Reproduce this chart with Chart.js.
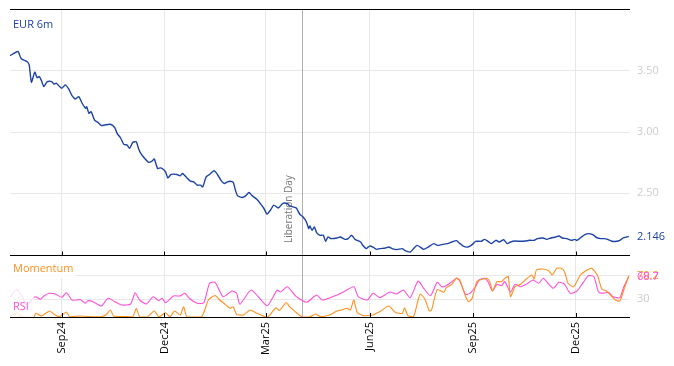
<!DOCTYPE html>
<html>
<head>
<meta charset="utf-8">
<script src="https://cdn.jsdelivr.net/npm/chart.js@4.4.1/dist/chart.umd.min.js"></script>
<style>
  html, body { margin: 0; padding: 0; background: #fff; }
  #wrap { width: 674px; height: 366px; position: relative; }
</style>
</head>
<body>
<div id="wrap"><canvas id="chart" width="674" height="366"></canvas></div>
<script>
// days are counted from 17 Jul 2024
const startDate = Date.UTC(2024, 6, 17);
const dayOf = s => Math.round((Date.parse(s) - startDate) / 86400000);

const eurDays = [0,7,10,15,17,19,22,24,26,28,30,33,37,39,41,44,46,49,52,55,58,61,64,67,68,70,72,75,78,81,84,89,93,95,98,101,104,106,109,112,114,116,119,123,126,128,131,134,138,140,143,148,151,153,157,160,163,166,169,171,174,177,181,184,187,190,193,195,198,200,202,206,209,212,215,219,222,225,228,231,234,238,242,246,248,251,254,257,260,263,265,266,268,270,272,275,278,280,282,285,290,293,297,300,303,306,311,313,316,319,322,325,328,333,336,339,343,348,350,355,358,361,364,367,371,376,379,383,388,392,396,399,402,406,410,413,418,421,424,427,431,434,438,441,444,448,453,457,461,465,468,473,476,480,484,487,490,494,498,501,503,507,510,513,517,521,524,527,530,534,538,541,544,547,549];
const eurVals = [3.623,3.658,3.598,3.576,3.549,3.407,3.489,3.443,3.453,3.418,3.371,3.412,3.412,3.391,3.399,3.371,3.358,3.385,3.352,3.297,3.270,3.289,3.235,3.194,3.207,3.153,3.166,3.098,3.079,3.052,3.057,3.063,3.035,2.989,2.953,2.899,2.893,2.866,2.916,2.920,2.866,2.825,2.789,2.752,2.762,2.779,2.702,2.707,2.675,2.625,2.653,2.653,2.642,2.661,2.625,2.598,2.593,2.566,2.566,2.552,2.634,2.653,2.683,2.653,2.607,2.579,2.593,2.598,2.588,2.524,2.478,2.465,2.478,2.506,2.478,2.451,2.416,2.379,2.330,2.361,2.402,2.379,2.416,2.416,2.396,2.388,2.379,2.328,2.306,2.265,2.211,2.232,2.197,2.224,2.178,2.156,2.156,2.107,2.142,2.129,2.134,2.142,2.123,2.129,2.156,2.123,2.101,2.074,2.047,2.068,2.060,2.041,2.047,2.052,2.060,2.047,2.039,2.047,2.033,2.019,2.047,2.074,2.060,2.041,2.060,2.088,2.074,2.080,2.088,2.101,2.112,2.090,2.068,2.060,2.080,2.107,2.107,2.123,2.107,2.088,2.115,2.101,2.120,2.088,2.101,2.109,2.107,2.109,2.115,2.115,2.129,2.134,2.123,2.134,2.142,2.150,2.134,2.129,2.115,2.123,2.115,2.142,2.161,2.170,2.161,2.134,2.129,2.129,2.123,2.107,2.107,2.115,2.134,2.142,2.146];

const rsiDays = [0,6,11,15,22,27,30,35,40,46,50,55,59,62,67,69,74,81,87,93,99,107,111,115,121,127,132,135,138,145,151,155,160,166,172,177,182,189,197,201,204,214,228,237,240,246,254,263,272,277,284,290,296,305,309,317,322,328,337,343,349,355,362,367,373,379,383,387,392,396,399,404,408,413,416,421,424,428,432,436,439,444,448,453,458,464,469,473,478,482,487,492,497,503,509,513,518,522,526,531,535,541,544,549];
const rsiVals = [33.9,46.9,33.9,20.3,34.4,30.0,35.6,40.1,39.0,33.4,41.2,28.8,28.8,30.0,23.2,27.6,25.4,18.6,31.7,25.9,20.3,22.0,41.2,28.8,22.0,34.4,27.6,31.7,24.2,35.6,35.6,40.1,30.0,23.2,24.2,57.1,58.8,34.4,44.0,40.1,21.5,45.7,19.1,45.7,42.3,51.3,34.4,24.9,37.3,28.8,32.7,37.3,42.8,51.3,34.4,28.8,40.1,32.7,42.3,39.0,45.7,32.7,61.0,48.6,36.1,58.8,51.3,53.0,59.8,65.5,61.0,38.4,40.1,51.3,62.7,65.5,59.8,44.0,55.4,53.0,59.8,41.8,55.4,51.3,55.4,62.7,57.1,65.5,55.4,48.6,58.8,55.4,40.1,44.0,59.8,69.9,68.2,42.8,40.1,41.8,34.4,32.7,48.6,68.7];

const momDays = [0,6,11,21,23,28,35,40,44,50,53,62,69,80,85,89,92,102,109,112,115,122,128,132,138,142,146,151,154,157,170,176,182,186,191,195,198,201,207,213,219,226,229,236,239,245,248,253,259,266,271,275,281,285,290,294,299,302,305,308,313,322,325,329,336,342,348,350,353,358,362,364,368,372,374,379,385,387,392,396,399,404,407,410,414,417,423,426,428,432,436,439,442,444,448,453,458,463,465,467,473,478,481,485,489,492,495,500,506,512,516,521,525,529,534,537,541,545,549];
const momVals = [0.5,7.3,0.5,0.5,6.3,1.7,10.2,3.4,0.5,8.5,0.5,1.7,0.8,0.5,3.4,11.9,1.7,0.8,0.5,14.7,0.5,0.5,10.2,0.5,7.3,0.5,10.2,3.4,17.4,0.5,0.5,28.8,36.4,28.8,21.5,14.7,17.4,4.6,3.4,11.9,6.3,0.5,0.5,15.6,11.0,24.6,17.4,9.0,0.5,0.5,5.1,0.8,2.2,4.6,10.2,11.9,14.7,11.9,28.8,7.6,2.5,3.4,6.3,10.2,18.6,7.6,6.3,15.2,2.2,0.8,28.8,39.0,30.5,10.2,11.9,46.6,41.8,49.6,55.4,66.0,62.7,35.6,25.9,31.7,59.8,62.7,65.5,57.6,44.0,59.8,59.8,65.5,68.6,34.4,51.3,55.4,64.4,71.1,64.4,79.6,81.3,77.9,71.1,82.5,82.5,76.2,57.1,51.3,71.1,79.6,82.5,71.1,47.4,44.0,34.4,28.8,27.1,48.6,70.2];

const monthDates = ['2024-09-01','2024-12-01','2025-03-01','2025-06-01','2025-09-01','2025-12-01'];
const monthLabels = ['Sep24','Dec24','Mar25','Jun25','Sep25','Dec25'];
const mainTicks = [2.5, 3.0, 3.5];
const lowerTicks = [30, 70];
const eventDate = '2025-04-02';
const eventLabel = 'Liberation Day';

const BLUE = '#1c43a6', PINK = '#ff4fd8', ORANGE = '#ff901f', GREY = '#cccccc';
const FONT = '"Open Sans", "Noto Sans", sans-serif';
const tickDays = monthDates.map(dayOf);

const pts = (xs, ys) => xs.map((d, i) => ({ x: d, y: ys[i] }));

// right axes: fixed width, no half-label padding above/below
const fitRight = s => { s.width = 44; s.paddingTop = 0; s.paddingBottom = 0; };

const overlay = {
  id: 'overlay',
  beforeDatasetsDraw(chart) {
    const { ctx, chartArea: a, scales } = chart;
    const x = Math.round(scales.x.getPixelForValue(dayOf(eventDate))) + 0.5;
    ctx.save();
    ctx.strokeStyle = '#b0b0b0';
    ctx.lineWidth = 1;
    ctx.beginPath(); ctx.moveTo(x, a.top); ctx.lineTo(x, a.bottom); ctx.stroke();
    ctx.translate(x - 13, scales.y.bottom - 12);
    ctx.rotate(-Math.PI / 2);
    ctx.fillStyle = '#777';
    ctx.font = '10px ' + FONT;
    ctx.textAlign = 'left';
    ctx.textBaseline = 'middle';
    ctx.fillText(eventLabel, 0, 0);
    ctx.restore();
  },
  afterDatasetsDraw(chart) {
    const { ctx, chartArea: a, scales } = chart;
    const divY = Math.round(scales.y.bottom) + 0.5;
    ctx.save();
    ctx.font = '11px ' + FONT;
    ctx.textBaseline = 'middle';
    ctx.textAlign = 'left';

    // panel labels with white boxes
    ctx.fillStyle = 'rgba(255,255,255,0.8)';
    ctx.fillRect(a.left, divY + 3, ctx.measureText('Momentum').width + 6, 20);
    ctx.fillRect(a.left, divY + 31, ctx.measureText('RSI').width + 8, a.bottom - divY - 31);
    ctx.fillStyle = BLUE;
    ctx.fillText('EUR 6m', a.left + 3, a.top + 16);
    ctx.fillStyle = ORANGE;
    ctx.fillText('Momentum', a.left + 3, divY + 13);
    ctx.fillStyle = PINK;
    ctx.fillText('RSI', a.left + 3, divY + 51);

    // borders and ticks
    ctx.strokeStyle = '#000';
    ctx.lineWidth = 1;
    ctx.beginPath();
    [Math.round(a.top) + 0.5, divY, Math.round(a.bottom) + 0.5].forEach(y => {
      ctx.moveTo(a.left, y); ctx.lineTo(a.right, y);
    });
    tickDays.forEach(d => {
      const x = Math.round(scales.x.getPixelForValue(d)) + 0.5;
      ctx.moveTo(x, divY - 4); ctx.lineTo(x, divY);
      ctx.moveTo(x, a.bottom - 4); ctx.lineTo(x, a.bottom);
    });
    ctx.stroke();

    // last values
    const lx = a.right + 7;
    const lastMom = momVals[momVals.length - 1];
    const lastRsi = rsiVals[rsiVals.length - 1];
    const lastEur = eurVals[eurVals.length - 1];
    ctx.fillStyle = ORANGE;
    ctx.fillText(lastMom.toFixed(1), lx, scales.y2.getPixelForValue(lastMom));
    ctx.fillStyle = PINK;
    ctx.fillText(lastRsi.toFixed(1), lx, scales.y2.getPixelForValue(lastRsi));
    ctx.fillStyle = BLUE;
    ctx.fillText(lastEur.toFixed(3), lx, scales.y.getPixelForValue(lastEur));
    ctx.restore();
  }
};

new Chart(document.getElementById('chart'), {
  type: 'line',
  data: {
    datasets: [
      { label: 'EUR 6m', data: pts(eurDays, eurVals), yAxisID: 'y', borderColor: BLUE, borderWidth: 1.4 },
      { label: 'Momentum', data: pts(momDays, momVals), yAxisID: 'y2', borderColor: ORANGE, borderWidth: 1.1 },
      { label: 'RSI', data: pts(rsiDays, rsiVals), yAxisID: 'y2', borderColor: PINK, borderWidth: 1.1 }
    ]
  },
  options: {
    responsive: false,
    animation: false,
    layout: { padding: { left: 10, top: 9, right: 0, bottom: 0 } },
    plugins: { legend: { display: false }, tooltip: { enabled: false } },
    elements: { point: { radius: 0 }, line: { tension: 0.2 } },
    scales: {
      x: {
        type: 'linear', min: 0, max: 550,
        afterBuildTicks: s => { s.ticks = tickDays.map(v => ({ value: v })); },
        afterFit: s => { s.height = 49; s.paddingLeft = 0; s.paddingRight = 0; },
        ticks: {
          autoSkip: false, minRotation: 90, maxRotation: 90, padding: 5,
          color: '#000', font: { size: 11, family: FONT },
          callback: v => monthLabels[tickDays.indexOf(v)] || ''
        },
        grid: { color: '#e6e6e6', drawTicks: false },
        border: { display: false }
      },
      y: {
        position: 'right', stack: 'panels', stackWeight: 246,
        min: 1.995, max: 4.005,
        afterBuildTicks: s => { s.ticks = mainTicks.map(v => ({ value: v })); },
        afterFit: fitRight,
        ticks: { color: GREY, padding: 7, font: { size: 11, family: FONT }, callback: v => v.toFixed(2) },
        grid: { color: '#e8e8e8', drawTicks: false },
        border: { display: false }
      },
      y2: {
        position: 'right', stack: 'panels', stackWeight: 62,
        min: 0, max: 105,
        afterBuildTicks: s => { s.ticks = lowerTicks.map(v => ({ value: v })); },
        afterFit: fitRight,
        ticks: { color: GREY, padding: 7, font: { size: 11, family: FONT }, callback: v => v === 30 ? '30' : '' },
        grid: { color: '#e8e8e8', drawTicks: false },
        border: { display: false }
      }
    }
  },
  plugins: [overlay]
});
</script>
</body>
</html>
